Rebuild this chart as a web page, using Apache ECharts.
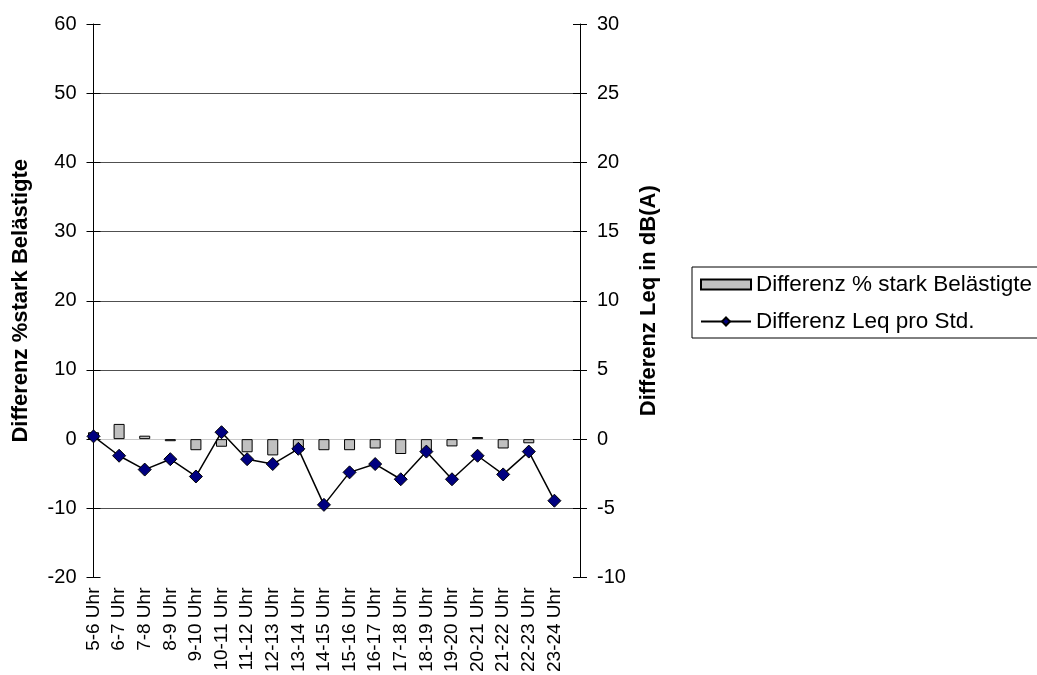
<!DOCTYPE html>
<html>
<head>
<meta charset="utf-8">
<script src="https://cdn.jsdelivr.net/npm/echarts@6/dist/echarts.min.js"></script>
<style>
  html, body { margin: 0; padding: 0; background: #fff; }
  #chart { width: 1037px; height: 675px; }
</style>
</head>
<body>
<div id="chart"></div>
<script>
// Hourly periods (the trailing blank slot keeps the right edge free)
const categories = [
  '5-6 Uhr', '6-7 Uhr', '7-8 Uhr', '8-9 Uhr', '9-10 Uhr', '10-11 Uhr',
  '11-12 Uhr', '12-13 Uhr', '13-14 Uhr', '14-15 Uhr', '15-16 Uhr',
  '16-17 Uhr', '17-18 Uhr', '18-19 Uhr', '19-20 Uhr', '20-21 Uhr',
  '21-22 Uhr', '22-23 Uhr', '23-24 Uhr', ''
];

// Difference in % highly annoyed (left axis)
const diffAnnoyed = [
  1.0, 2.2, 0.5, -0.3, -1.6, -1.1, -1.9, -2.35, -1.75, -1.6,
  -1.6, -1.35, -2.15, -1.9, -1.05, 0.3, -1.35, -0.6, null, null
];

// Difference in Leq per hour, dB(A) (right axis)
const diffLeq = [
  0.2, -1.2, -2.2, -1.45, -2.7, 0.5, -1.45, -1.8, -0.7, -4.75,
  -2.4, -1.8, -2.9, -0.9, -2.9, -1.2, -2.55, -0.9, -4.45, null
];

const leftTicks = { min: -20, max: 60, interval: 10 };
const rightTicks = { min: -10, max: 30, interval: 5 };

const font = "Arial, 'Liberation Sans', sans-serif";
const chart = echarts.init(document.getElementById('chart'));

// gridline colours from bottom (-20) to top (60)
const gridColors = ['rgba(0,0,0,0)', '#505050', '#505050', '#505050', '#505050',
                    '#505050', '#505050', '#505050', 'rgba(0,0,0,0)'];

chart.setOption({
  animation: false,
  backgroundColor: '#fff',
  grid: { left: 93.5, right: 457, top: 24, bottom: 95 },
  legend: {
    orient: 'vertical',
    left: 692,
    top: 267,
    width: 344,
    padding: [6, 40, 5, 8],
    itemGap: 14,
    itemWidth: 50,
    itemHeight: 10,
    borderColor: '#000',
    borderWidth: 1,
    textStyle: { fontFamily: font, fontSize: 22.5, color: '#000' },
    data: [
      { name: 'Differenz % stark Belästigte', icon: 'rect' },
      { name: 'Differenz Leq pro Std.' }
    ]
  },
  xAxis: {
    type: 'category',
    data: categories,
    boundaryGap: false,
    axisLine: { lineStyle: { color: '#c8c8c8', width: 1 } },
    axisTick: { show: false },
    axisLabel: {
      interval: 0, rotate: 90, margin: 10,
      fontFamily: font, fontSize: 19, color: '#000'
    },
    splitLine: { show: false }
  },
  yAxis: [
    {
      type: 'value', position: 'left',
      min: leftTicks.min, max: leftTicks.max, interval: leftTicks.interval,
      name: 'Differenz %stark Belästigte',
      nameLocation: 'middle', nameRotate: 90, nameGap: 62,
      nameTextStyle: { fontFamily: font, fontSize: 22, fontWeight: 'bold', color: '#000' },
      axisLine: { show: true, lineStyle: { color: '#000', width: 1 } },
      axisTick: { show: true, length: 7, lineStyle: { color: '#000' } },
      axisLabel: { margin: 17, fontFamily: font, fontSize: 20, color: '#000' },
      splitLine: { show: true, lineStyle: { color: gridColors, width: 1 } }
    },
    {
      type: 'value', position: 'right',
      min: rightTicks.min, max: rightTicks.max, interval: rightTicks.interval,
      name: 'Differenz Leq in dB(A)',
      nameLocation: 'middle', nameRotate: 90, nameGap: 58,
      nameTextStyle: { fontFamily: font, fontSize: 22, fontWeight: 'bold', color: '#000' },
      axisLine: { show: true, lineStyle: { color: '#000', width: 1 } },
      axisTick: { show: true, length: 7, lineStyle: { color: '#000' } },
      axisLabel: { margin: 17, fontFamily: font, fontSize: 20, color: '#000' },
      splitLine: { show: false }
    },
    // inner halves of the crossing tick marks
    {
      type: 'value', position: 'left',
      min: leftTicks.min, max: leftTicks.max, interval: leftTicks.interval,
      axisLine: { show: false },
      axisTick: { show: true, inside: true, length: 7, lineStyle: { color: '#000' } },
      axisLabel: { show: false },
      splitLine: { show: false }
    },
    {
      type: 'value', position: 'right',
      min: rightTicks.min, max: rightTicks.max, interval: rightTicks.interval,
      axisLine: { show: false },
      axisTick: { show: true, inside: true, length: 7, lineStyle: { color: '#000' } },
      axisLabel: { show: false },
      splitLine: { show: false }
    }
  ],
  series: [
    {
      name: 'Differenz % stark Belästigte',
      type: 'bar',
      yAxisIndex: 0,
      data: diffAnnoyed,
      barWidth: 11,
      clip: true,
      itemStyle: { color: '#c0c0c0', borderColor: '#000', borderWidth: 1 },
      z: 2
    },
    {
      name: 'Differenz Leq pro Std.',
      type: 'line',
      yAxisIndex: 1,
      data: diffLeq,
      symbol: 'diamond',
      symbolSize: 13,
      clip: false,
      lineStyle: { color: '#000', width: 1.5 },
      itemStyle: { color: '#000080', borderColor: '#000', borderWidth: 1 },
      z: 3
    }
  ]
});
</script>
</body>
</html>
